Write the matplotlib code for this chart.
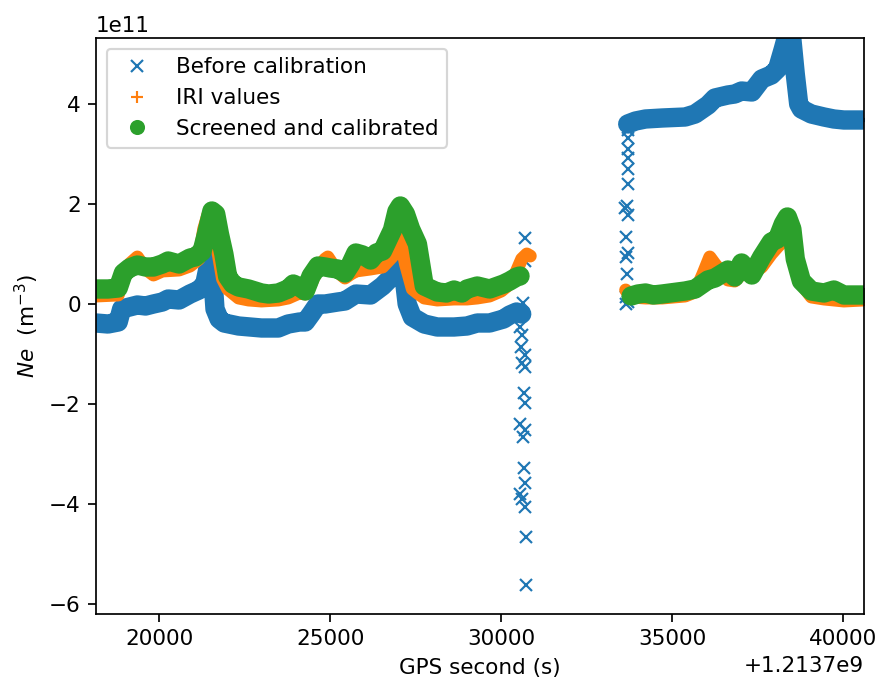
import numpy as np
import matplotlib
matplotlib.use("Agg")
import matplotlib.pyplot as plt

# GPS offset shown by the axis formatter
T0 = 1213700000
xticks = [20000, 25000, 30000, 35000, 40000]

# Before calibration (blue)
blue_t1 = [18150, 18500, 18800, 18900, 19130, 19360, 19600, 19830, 20090, 20260,
           20580, 20900, 21160, 21330, 21480, 21560, 21630, 21750, 21900, 22320,
           22990, 23480, 23770, 24100, 24270, 24440, 24640, 24850, 25220, 25430,
           25750, 26180, 26530, 26820, 26950, 27050, 27150, 27250, 27400, 27750,
           28130, 28620, 29000, 29300, 29660, 30070, 30250, 30450, 30600]
blue_v1 = [-0.38, -0.40, -0.36, -0.10, -0.06, -0.02, -0.04, 0.00, 0.04, 0.10,
           0.08, 0.20, 0.28, 0.40, 0.90, 0.60, -0.10, -0.30, -0.38, -0.44,
           -0.48, -0.48, -0.40, -0.36, -0.36, -0.20, 0.00, 0.00, 0.04, 0.06,
           0.20, 0.18, 0.36, 0.56, 0.80, 1.04, 0.60, 0.00, -0.26, -0.40,
           -0.46, -0.46, -0.44, -0.38, -0.38, -0.30, -0.22, -0.16, -0.20]
blue_t2 = [33700, 33930, 34220, 34710, 35380, 35670, 36050, 36250, 36630, 36830,
           37030, 37330, 37620, 37900, 38080, 38250, 38370, 38500, 38600, 38700,
           38780, 39070, 39440, 39730, 40020, 40600]
blue_v2 = [3.60, 3.66, 3.70, 3.72, 3.74, 3.80, 3.98, 4.12, 4.18, 4.20,
           4.26, 4.24, 4.50, 4.58, 4.70, 5.10, 5.40, 5.30, 4.60, 4.00,
           3.90, 3.80, 3.74, 3.70, 3.68, 3.68]
# isolated blue crosses at the data gaps
spike_t = [30700, 30710, 30650, 30600, 30560, 30620, 30580, 30690, 30600, 30690,
           30680, 30710, 30560, 30710, 30650, 30680, 30690, 30560, 30620, 30700,
           30720, 30720,
           33640, 33700, 33640, 33680, 33640, 33700, 33640, 33700, 33620, 33680,
           33720, 33700, 33720, 33720, 33720, 33700]
spike_v = [1.32, 0.86, 0.02, -0.20, -0.46, -0.62, -0.86, -1.02, -1.18, -1.26,
           -1.78, -1.98, -2.40, -2.52, -2.66, -3.28, -3.58, -3.80, -3.90, -4.06,
           -4.66, -5.62,
           0.00, 0.04, 0.14, 0.60, 0.94, 1.02, 1.34, 1.78, 1.92, 1.96,
           2.40, 2.70, 2.92, 3.10, 3.32, 3.48]

# IRI values (orange)
iri_t1 = [18150, 18800, 18950, 19130, 19360, 19600, 19830, 20090, 20580, 20900,
          21160, 21300, 21420, 21550, 21700, 21850, 22000, 22320, 22610, 22990,
          23480, 23770, 24100, 24270, 24440, 24640, 24850, 24930, 25220, 25430,
          25600, 25750, 26180, 26530, 26820, 26950, 27050, 27200, 27400, 27550,
          27750, 28130, 28620, 29000, 29300, 29660, 30000, 30250, 30450, 30600,
          30750, 30850]
iri_v1 = [0.16, 0.18, 0.55, 0.80, 0.94, 0.70, 0.58, 0.66, 0.68, 0.76,
          0.90, 1.50, 1.78, 1.70, 1.10, 0.50, 0.30, 0.12, 0.08, 0.06,
          0.08, 0.12, 0.22, 0.20, 0.40, 0.72, 0.90, 0.94, 0.64, 0.52,
          0.60, 0.66, 0.70, 0.74, 0.95, 1.20, 1.30, 0.80, 0.30, 0.22,
          0.12, 0.08, 0.10, 0.10, 0.12, 0.16, 0.26, 0.40, 0.66, 0.90,
          1.00, 0.96]
iri_t2 = [33640, 33800, 34220, 34710, 35380, 35670, 35900, 36100, 36250, 36630,
          36830, 37030, 37330, 37620, 37900, 38080, 38300, 38500, 38650, 38780,
          39070, 39440, 39730, 40020, 40600]
iri_v2 = [0.28, 0.14, 0.12, 0.12, 0.16, 0.24, 0.60, 0.94, 0.80, 0.48,
          0.46, 0.60, 0.60, 0.74, 1.00, 1.14, 1.30, 1.40, 0.80, 0.40,
          0.14, 0.10, 0.08, 0.06, 0.08]

# Screened and calibrated (green)
cal_t1 = [18150, 18500, 18800, 18950, 19130, 19360, 19600, 19830, 20090, 20260,
          20580, 20900, 21050, 21250, 21400, 21540, 21650, 21760, 21890, 22000,
          22150, 22320, 22610, 22990, 23200, 23480, 23770, 23920, 24100, 24270,
          24440, 24640, 24850, 25000, 25220, 25430, 25600, 25750, 25950, 26180,
          26350, 26530, 26820, 26950, 27050, 27200, 27350, 27550, 27750, 28130,
          28400, 28620, 28850, 29000, 29300, 29660, 30070, 30250, 30450, 30550]
cal_v1 = [0.30, 0.30, 0.32, 0.62, 0.72, 0.78, 0.74, 0.74, 0.80, 0.86,
          0.80, 0.92, 0.94, 1.05, 1.45, 1.86, 1.80, 1.40, 1.00, 0.55,
          0.40, 0.34, 0.30, 0.22, 0.20, 0.22, 0.30, 0.40, 0.34, 0.26,
          0.56, 0.76, 0.74, 0.72, 0.70, 0.62, 0.80, 1.02, 0.98, 0.88,
          1.02, 1.06, 1.48, 1.85, 1.96, 1.80, 1.50, 1.20, 0.36, 0.24,
          0.22, 0.28, 0.22, 0.30, 0.36, 0.30, 0.40, 0.46, 0.54, 0.56]
cal_t2 = [33800, 34000, 34220, 34450, 34710, 35380, 35670, 36050, 36250, 36630,
          36830, 37030, 37330, 37620, 37900, 38080, 38250, 38370, 38500, 38600,
          38780, 39070, 39440, 39730, 40020, 40600]
cal_v2 = [0.16, 0.20, 0.22, 0.18, 0.20, 0.26, 0.30, 0.48, 0.52, 0.68,
          0.54, 0.82, 0.58, 0.94, 1.24, 1.30, 1.60, 1.74, 1.50, 0.90,
          0.46, 0.26, 0.22, 0.28, 0.18, 0.18]

blue, orange, green = 'tab:blue', 'tab:orange', 'tab:green'

fig = plt.figure(figsize=(878 / 155, 682 / 155), dpi=155)
ax = fig.add_axes([96 / 878, 1 - 614 / 682, 768 / 878, 576 / 682])

def band(t, v, color, lw):
    # dense measurements show as a thick band
    ax.plot(np.array(t) + T0, np.array(v) * 1e11, '-', color=color, lw=lw,
            solid_capstyle='round', solid_joinstyle='round')

band(blue_t1, blue_v1, blue, 9)
band(blue_t2, blue_v2, blue, 9)
ax.plot(np.array(blue_t1 + blue_t2 + spike_t) + T0,
        np.array(blue_v1 + blue_v2 + spike_v) * 1e11,
        'x', color=blue, linestyle='none', label='Before calibration')

band(iri_t1, iri_v1, orange, 6)
band(iri_t2, iri_v2, orange, 6)
ax.plot(np.array(iri_t1 + iri_t2) + T0, np.array(iri_v1 + iri_v2) * 1e11,
        '+', color=orange, linestyle='none', label='IRI values')

band(cal_t1, cal_v1, green, 9)
band(cal_t2, cal_v2, green, 9)
ax.plot(np.array(cal_t1 + cal_t2) + T0, np.array(cal_v1 + cal_v2) * 1e11,
        'o', color=green, linestyle='none', label='Screened and calibrated')

ax.set_xlim(18150 + T0, 40610 + T0)
ax.set_ylim(-6.2e11, 5.32e11)
ax.set_xticks([x + T0 for x in xticks])
ax.set_xlabel('GPS second (s)')
ax.set_ylabel(r'$Ne$  (m$^{-3}$)')
ax.legend(loc='upper left')

fig.savefig('out.png', dpi=155)
